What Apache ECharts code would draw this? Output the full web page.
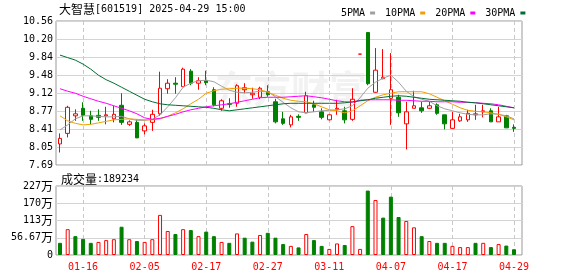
<!DOCTYPE html>
<html>
<head>
<meta charset="utf-8">
<script src="https://cdn.jsdelivr.net/npm/echarts@6/dist/echarts.min.js"></script>
<style>
html,body{margin:0;padding:0;background:#fff}
#kline{width:578px;height:276px}
</style>
</head>
<body>
<div id="kline"></div>
<script>
// trading days (stock suspended 03-17 .. 03-28)
var dates = ['01-13','01-14','01-15','01-16','01-17','01-20','01-21','01-22','01-23','01-24',
	'01-27','02-05','02-06','02-07','02-10','02-11','02-12','02-13','02-14','02-17',
	'02-18','02-19','02-20','02-21','02-24','02-25','02-26','02-27','02-28','03-03',
	'03-04','03-05','03-06','03-07','03-10','03-11','03-12','03-13','03-14','03-31',
	'04-01','04-02','04-03','04-07','04-08','04-09','04-10','04-11','04-14','04-15',
	'04-16','04-17','04-18','04-21','04-22','04-23','04-24','04-25','04-28','04-29'];

var open = [8.11,8.32,8.67,8.82,8.67,8.68,8.67,8.61,8.88,8.50, 8.54,8.37,8.54,8.71,9.21,9.32,9.25,9.56,9.32,9.37,
	9.19,8.82,8.91,8.92,9.19,9.09,9.04,9.15,8.95,8.61, 8.49,8.66,8.73,8.89,8.75,8.59,8.80,8.77,8.60,9.90,
	10.33,9.14,9.41,9.02,9.04,8.51,8.82,8.83,8.82,8.89, 8.69,8.42,8.57,8.59,8.69,8.75,8.77,8.55,8.67,8.44];
var close = [8.22,8.84,8.71,8.68,8.60,8.64,8.69,8.70,8.54,8.55, 8.23,8.47,8.70,9.22,9.32,9.30,9.60,9.32,9.37,9.33,
	8.89,8.97,8.90,9.27,9.23,9.12,9.22,9.09,8.55,8.52, 8.65,8.64,9.07,8.84,8.64,8.69,8.82,8.59,9.00,9.90,
	9.31,9.58,9.44,9.19,8.73,8.75,8.87,8.77,8.87,8.72, 8.51,8.59,8.65,8.72,8.71,8.77,8.55,8.65,8.43,8.42];
var low = [7.94,8.24,8.57,8.57,8.50,8.57,8.50,8.54,8.49,8.47, 8.23,8.30,8.37,8.67,9.11,9.11,9.25,9.28,9.19,9.28,
	8.86,8.77,8.83,8.85,9.12,9.01,9.00,9.05,8.52,8.49, 8.44,8.57,8.72,8.75,8.60,8.58,8.69,8.52,8.57,9.90,
	9.28,9.13,9.40,8.49,8.65,8.00,8.82,8.73,8.81,8.69, 8.40,8.42,8.55,8.55,8.59,8.64,8.55,8.55,8.43,8.35];
var high = [8.32,8.87,8.80,8.94,8.77,8.80,8.85,8.87,9.12,8.58, 8.60,8.52,8.79,9.55,9.40,9.44,9.63,9.60,9.44,9.57,
	9.24,9.00,9.02,9.30,9.32,9.23,9.25,9.28,9.01,8.75, 8.69,8.70,9.15,8.97,8.82,8.70,8.99,8.85,9.22,9.90,
	10.34,10.02,10.00,9.92,9.09,8.95,9.17,8.95,8.95,8.92, 8.69,8.75,8.71,8.79,8.89,8.89,8.82,8.85,8.69,8.50];
var closeBefore = 8.30; // close of the day before 01-13

var ma5 = [8.39,8.49,8.61,8.67,8.67,8.66,8.65,8.65,8.66,8.61, 8.58,8.58,8.60,8.69,8.85,9.03,9.24,9.32,9.37,9.38,
	9.35,9.26,9.18,9.14,9.13,9.14,9.16,9.15,9.05,8.94, 8.83,8.75,8.73,8.75,8.77,8.78,8.79,8.81,8.87,9.03,
	9.22,9.34,9.42,9.48,9.34,9.16,9.05,9.00,8.96,8.87, 8.81,8.77,8.73,8.70,8.69,8.69,8.71,8.70,8.67,8.61];
var ma10 = [8.67,8.57,8.52,8.49,8.50,8.53,8.56,8.59,8.60,8.61, 8.60,8.59,8.59,8.61,8.66,8.73,8.81,8.91,9.00,9.12,
	9.17,9.20,9.21,9.22,9.22,9.21,9.19,9.14,9.08,9.02, 8.98,8.96,8.95,8.91,8.85,8.79,8.77,8.73,8.77,8.87,
	8.97,9.04,9.09,9.12,9.15,9.15,9.15,9.15,9.11,9.04, 8.97,8.90,8.83,8.78,8.76,8.75,8.73,8.70,8.65,8.59];
var ma20 = [9.21,9.16,9.12,9.06,9.01,8.96,8.92,8.87,8.82,8.77, 8.71,8.63,8.60,8.62,8.66,8.70,8.75,8.79,8.82,8.85,
	8.87,8.89,8.91,8.94,8.97,9.00,9.03,9.04,9.04,9.04, 9.05,9.06,9.07,9.05,9.03,9.00,8.97,8.95,8.94,8.98,
	8.99,8.99,8.99,8.99,8.98,8.98,8.97,8.96,8.96,8.95, 8.95,8.95,8.94,8.94,8.93,8.92,8.91,8.89,8.86,8.83];
var ma30 = [9.88,9.83,9.78,9.70,9.60,9.48,9.39,9.32,9.24,9.16, 9.08,9.00,8.95,8.91,8.89,8.88,8.87,8.86,8.85,8.84,
	8.82,8.79,8.77,8.79,8.81,8.83,8.85,8.87,8.89,8.91, 8.92,8.92,8.92,8.92,8.92,8.92,8.92,8.93,8.95,8.97,
	8.99,9.02,9.04,9.06,9.07,9.06,9.04,9.02,9.00,8.99, 8.98,8.97,8.96,8.94,8.93,8.91,8.89,8.87,8.85,8.83];

// volume, in 万
var volume = [40,85,62,53,40,43,49,52,93,52, 46,43,52,132,79,69,85,82,62,77,
	62,43,40,71,57,44,66,73,57,36, 30,25,69,49,30,20,38,33,95,20,
	212,181,123,192,125,112,91,62,46,40, 40,30,26,26,40,40,26,36,31,18.92];

var priceTicks = ['7.69','8.05','8.41','8.77','9.12','9.48','9.84','10.20','10.56'];
var volTicks = ['0','56.67','113','170','227'];
var dateLabels = ['01-16','02-05','02-17','02-27','03-11','04-07','04-17','04-29'];

var red = '#ff0000', green = '#008000';
var mono = 'DejaVu Sans Mono', cjk = 'Noto Sans CJK SC';

var chart = echarts.init(document.getElementById('kline'));

var candleData = dates.map(function (d, i) {
	return [open[i], close[i], low[i], high[i]];
});
var volData = volume.map(function (v, i) {
	var prev = i === 0 ? closeBefore : close[i - 1];
	if (close[i] >= prev) {
		return { value: v, itemStyle: { color: '#fff', borderColor: red, borderWidth: 1 } };
	}
	return { value: v, itemStyle: { color: green, borderColor: green, borderWidth: 1 } };
});
function isLabelDay(i) {
	return dateLabels.indexOf(dates[i]) >= 0;
}
function maLine(name, data, color) {
	return {
		name: name, type: 'line', data: data, xAxisIndex: 1, yAxisIndex: 1,
		showSymbol: false, symbol: 'none', lineStyle: { width: 1, color: color }, itemStyle: { color: color }
	};
}
var richText = {
	c: { fontFamily: cjk, fontSize: 12, fontWeight: 'normal', color: '#000' },
	m: { fontFamily: mono, fontSize: 10, fontWeight: 'normal', color: '#000' }
};
var frameSplit = { show: true, lineStyle: { color: '#d4d4d4', width: 1 } };
var dashSplit = { show: true, interval: function (i) { return isLabelDay(i); }, lineStyle: { color: '#c8c8c8', type: [4, 3] } };

var option = {
	animation: false,
	backgroundColor: '#fff',
	title: [
		{ left: 54, top: -2, text: '{c|大智慧}{m|[601519] 2025-04-29 15:00}',
			textStyle: { fontWeight: 'normal', rich: richText } },
		{ left: 56, top: 168, text: '{c|成交量}{m|:189234}',
			textStyle: { fontWeight: 'normal', rich: richText } }
	],
	legend: {
		left: 336, top: 3, align: 'right', icon: 'rect', itemWidth: 5, itemHeight: 3, itemGap: 10,
		textStyle: { fontFamily: mono, fontSize: 10, color: '#000' },
		data: ['5PMA', '10PMA', '20PMA', '30PMA']
	},
	graphic: [{
		type: 'text', left: 215, top: 70, z: -10, silent: true,
		style: { text: '东方财富', font: 'bold 38px "Noto Sans CJK SC"', fill: '#f2f2f2' }
	}],
	grid: [
		{ left: 56, top: 21, width: 466, height: 144, show: true, borderColor: '#999', borderWidth: 1 },
		{ left: 60, top: 21, width: 454, height: 144 },
		{ left: 56, top: 186, width: 466, height: 69, show: true, borderColor: '#999', borderWidth: 1 },
		{ left: 60, top: 186, width: 454, height: 69 }
	],
	xAxis: [
		{ type: 'value', gridIndex: 0, min: 0, max: 1, show: false },
		{ type: 'category', gridIndex: 1, data: dates, boundaryGap: false,
			axisLine: { show: false }, axisTick: { show: false }, axisLabel: { show: false }, splitLine: dashSplit },
		{ type: 'value', gridIndex: 2, min: 0, max: 1, show: false },
		{ type: 'category', gridIndex: 3, data: dates, boundaryGap: false,
			axisLine: { show: false }, axisTick: { show: false }, splitLine: dashSplit,
			axisLabel: { interval: function (i) { return isLabelDay(i); }, color: red, fontFamily: mono, fontSize: 10, margin: 7 } }
	],
	yAxis: [
		{ type: 'value', gridIndex: 0, min: 0, max: 8, interval: 1,
			axisLine: { show: false }, axisTick: { show: false }, splitLine: frameSplit,
			axisLabel: { margin: 3, color: '#000', fontFamily: mono, fontSize: 10,
				formatter: function (v) { return priceTicks[v]; } } },
		{ type: 'value', gridIndex: 1, min: 7.69, max: 10.56, show: false, splitLine: { show: false } },
		{ type: 'value', gridIndex: 2, min: 0, max: 4, interval: 1,
			axisLine: { show: false }, axisTick: { show: false }, splitLine: frameSplit,
			axisLabel: { margin: 3, color: '#000',
				formatter: function (v) { return v === 0 ? '{m|0}' : '{m|' + volTicks[v] + '}{c|万}'; },
				rich: richText } },
		{ type: 'value', gridIndex: 3, min: 0, max: 227, show: false, splitLine: { show: false } }
	],
	series: [
		{
			name: 'K', type: 'candlestick', xAxisIndex: 1, yAxisIndex: 1, data: candleData,
			barWidth: 4, clip: false,
			itemStyle: { color: '#fff', color0: green, borderColor: red, borderColor0: green, borderWidth: 1 }
		},
		maLine('5PMA', ma5, '#a0a0a0'),
		maLine('10PMA', ma10, '#f0a000'),
		maLine('20PMA', ma20, '#ff00ff'),
		maLine('30PMA', ma30, '#006f32'),
		{
			name: 'VOL', type: 'bar', xAxisIndex: 3, yAxisIndex: 3, data: volData, barWidth: 4, clip: false
		}
	]
};
chart.setOption(option);
</script>
</body>
</html>
